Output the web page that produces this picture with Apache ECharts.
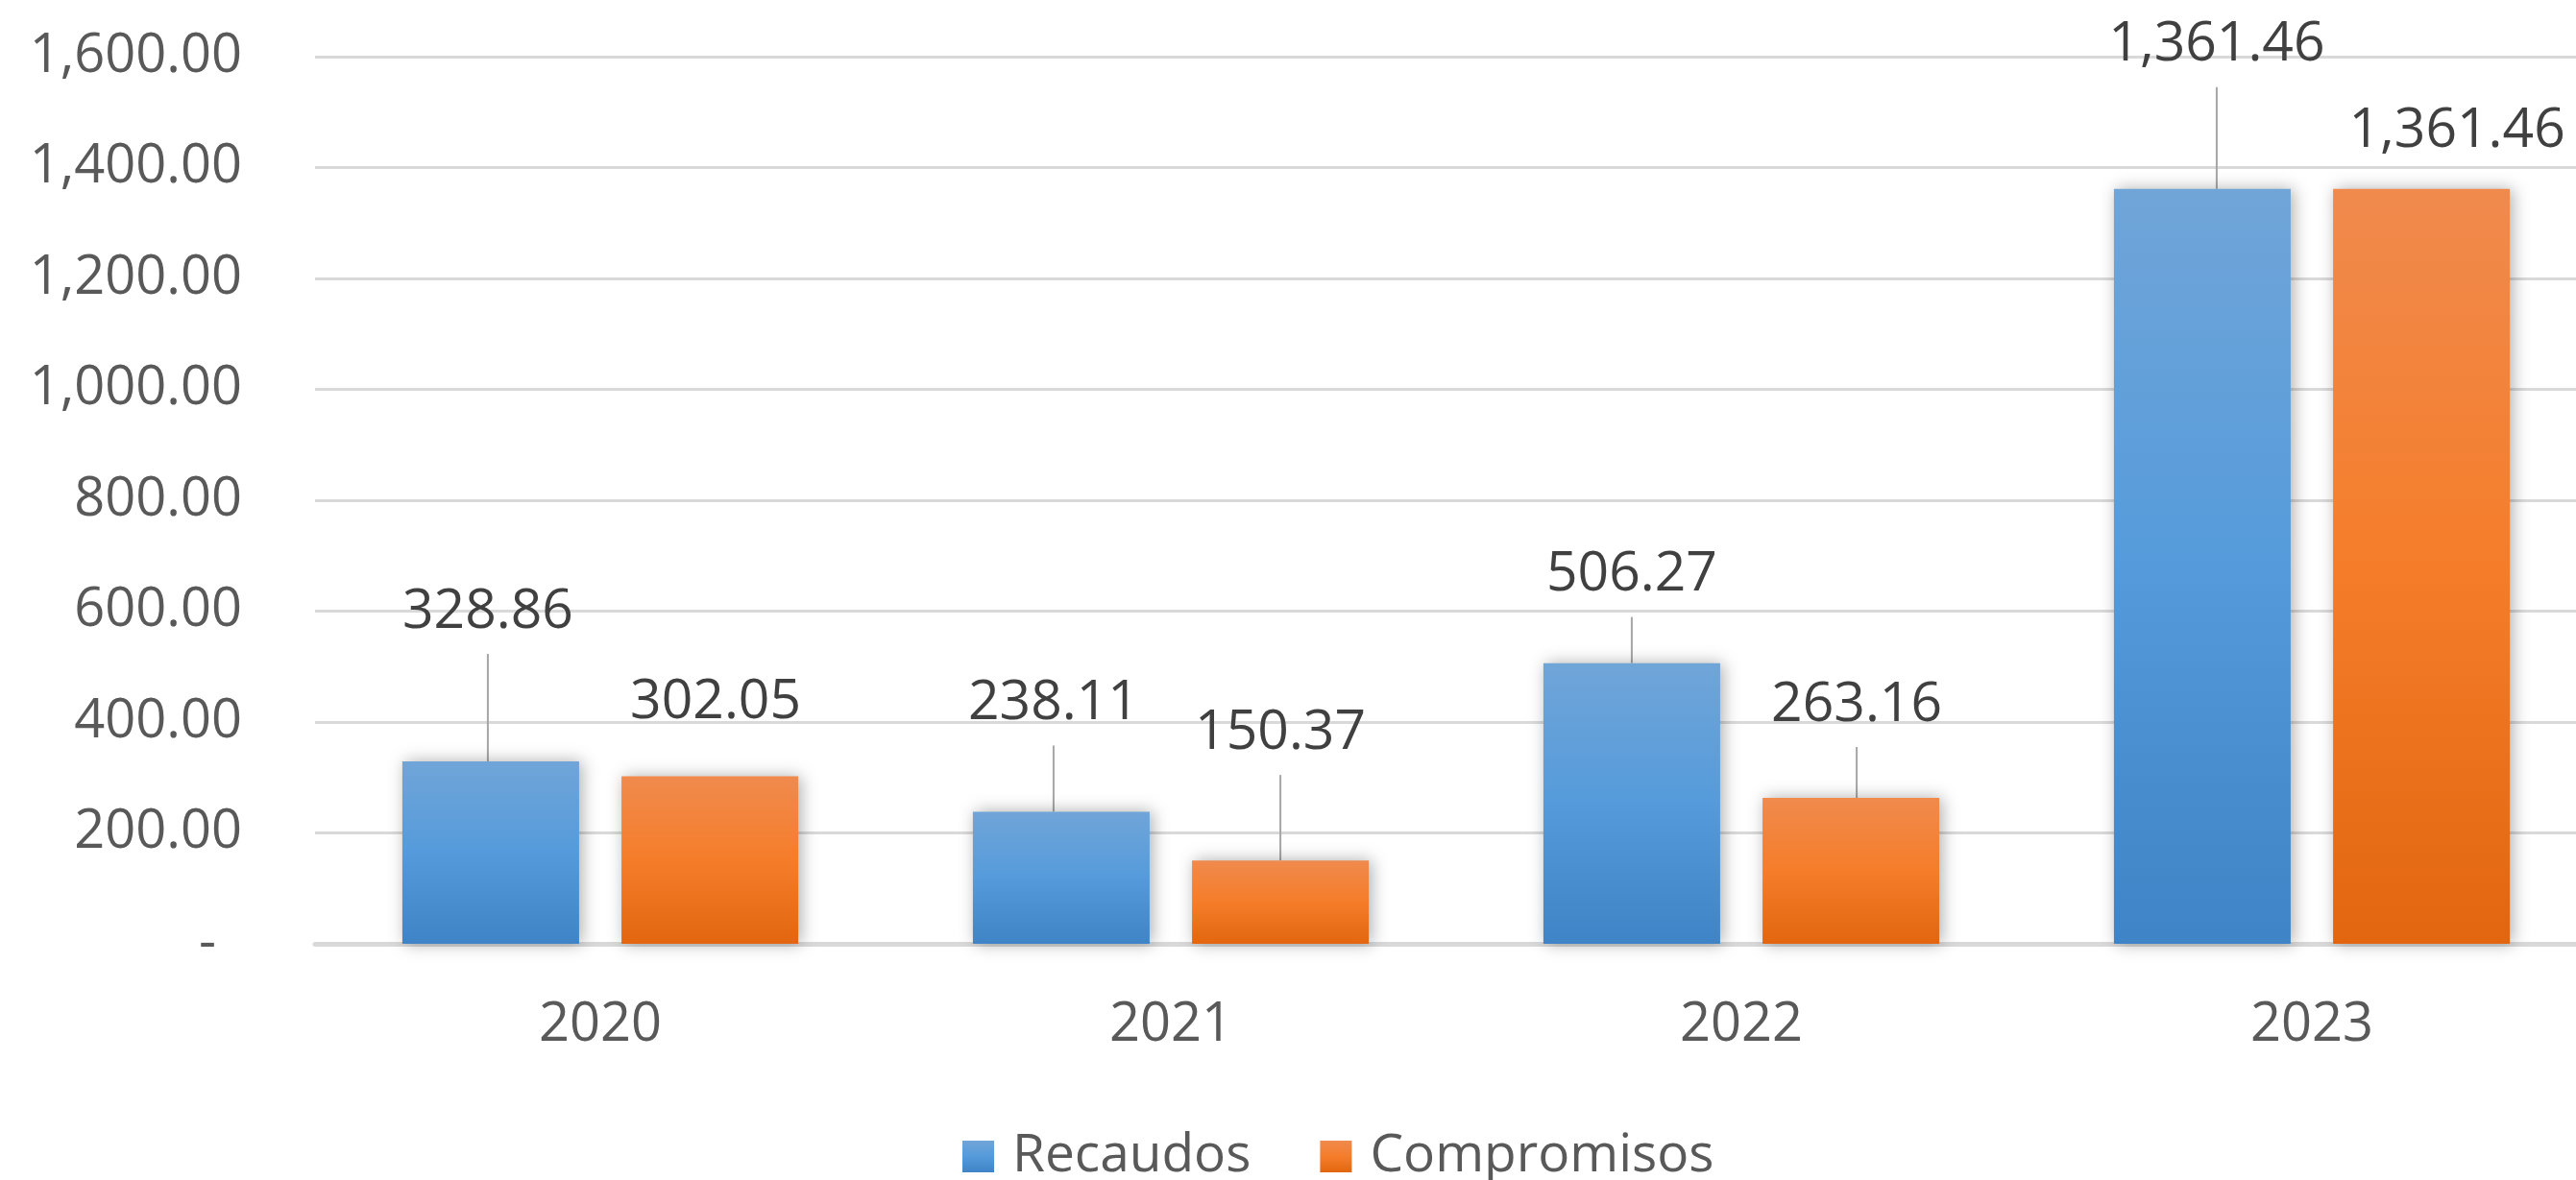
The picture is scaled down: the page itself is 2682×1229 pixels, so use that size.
<!DOCTYPE html>
<html><head><meta charset="utf-8">
<script src="https://cdn.jsdelivr.net/npm/echarts@6/dist/echarts.min.js"></script>
<style>html,body{margin:0;padding:0;overflow:hidden;background:#fff;}#c{width:2704px;height:1229px;}</style>
</head><body><div id="c"></div>
<script>
// ---- data ----
const years = ['2020', '2021', '2022', '2023'];
const recaudos = [328.86, 238.11, 506.27, 1361.46];
const compromisos = [302.05, 150.37, 263.16, 1361.46];
const seriesNames = ['Recaudos', 'Compromisos'];
const yMin = 0, yMax = 1600, yStep = 200;

// ---- label styling (pixel shifts of the dragged data labels, and leader-line visibility) ----
const labelShift = [
  [[-3, -112], [-8, -69], [0, -48], [15, -106]],
  [[6, -33], [0, -89], [6, -53], [37, -16]]
];
const leaderShown = [
  [true, true, true, true],
  [false, true, true, false]
];

const FONT = 'Open Sans';
const fmt = v => v.toLocaleString('en-US', {minimumFractionDigits: 2, maximumFractionDigits: 2});

function grad(c0, c1, c2) {
  return new echarts.graphic.LinearGradient(0, 0, 0, 1, [
    {offset: 0, color: c0}, {offset: 0.5, color: c1}, {offset: 1, color: c2}
  ]);
}
const colors = [grad('#70a5d8', '#559bdb', '#3e84c6'), grad('#f08a4d', '#f57d2a', '#e2660f')];

function makeSeries(idx, values) {
  return {
    name: seriesNames[idx],
    type: 'bar',
    barWidth: 184,
    barGap: '24%',
    data: values.map((v, i) => ({value: v, labelLine: {show: leaderShown[idx][i]}})),
    itemStyle: {
      color: colors[idx],
      shadowBlur: 16, shadowColor: 'rgba(0,0,0,0.32)', shadowOffsetX: 3, shadowOffsetY: 0
    },
    label: {
      show: true, position: 'top', distance: 0,
      padding: [0, 0, 15, 0],
      fontFamily: FONT, fontSize: 57, lineHeight: 57, color: '#404040',
      formatter: p => fmt(p.value)
    },
    labelLine: {show: true, length2: 0, lineStyle: {color: '#a6a6a6', width: 2}},
    labelLayout: p => ({dx: labelShift[idx][p.dataIndex][0], dy: labelShift[idx][p.dataIndex][1], hideOverlap: false})
  };
}

const chart = echarts.init(document.getElementById('c'), null, {renderer: 'canvas'});
chart.setOption({
  animation: false,
  backgroundColor: '#ffffff',
  grid: {left: 328, right: 0, top: 59, bottom: 246, containLabel: false},
  legend: {
    data: seriesNames,
    left: 997, top: 1172,
    itemWidth: 33, itemHeight: 33, itemGap: 72,
    icon: 'rect',
    itemStyle: {shadowBlur: 0, shadowColor: 'transparent'},
    textStyle: {fontFamily: FONT, fontSize: 55, color: '#595959', lineHeight: 33, padding: [0, 0, 0, 14]}
  },
  xAxis: {
    type: 'category', data: years,
    axisLine: {show: true, lineStyle: {color: '#d9d9d9', width: 5}},
    axisTick: {show: false},
    axisLabel: {fontFamily: FONT, fontSize: 56, lineHeight: 56, color: '#595959', margin: 57}
  },
  yAxis: {
    type: 'value', min: yMin, max: yMax, interval: yStep,
    axisLine: {show: false}, axisTick: {show: false},
    splitLine: {show: true, lineStyle: {color: '#d9d9d9', width: 3}},
    axisLabel: {
      fontFamily: FONT, fontSize: 56, color: '#595959', margin: 76,
      formatter: v => v === 0 ? '{z|-}' : fmt(v),
      rich: {z: {fontFamily: FONT, fontSize: 56, color: '#595959', padding: [0, 27, 0, 0]}}
    }
  },
  series: [makeSeries(0, recaudos), makeSeries(1, compromisos)]
});
</script></body></html>
